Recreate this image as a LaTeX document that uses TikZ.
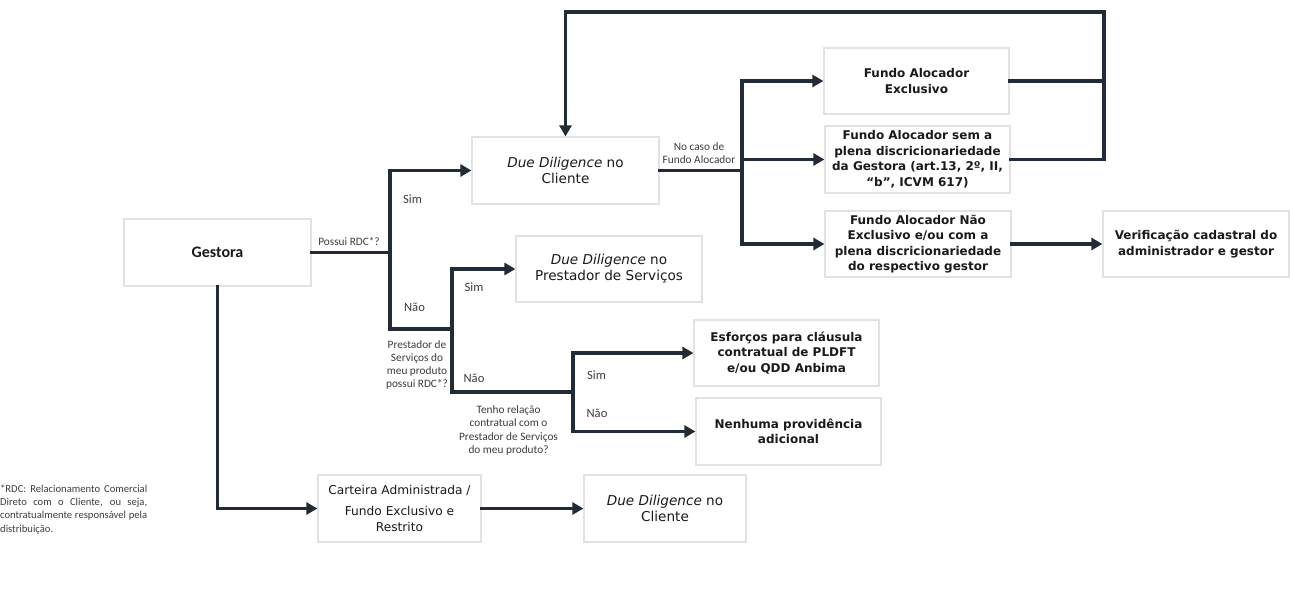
\documentclass[tikz,border=0pt]{standalone}
\usepackage{fontspec}
\setmainfont{DejaVu Sans}
\newfontfamily\lblfont{Carlito}
\usetikzlibrary{arrows.meta}
\definecolor{linec}{HTML}{232B36}
\definecolor{boxc}{HTML}{E2E2E2}
\definecolor{txtc}{HTML}{1A1A1A}
\definecolor{lblc}{HTML}{3C3C3C}
\tikzset{
  box/.style={draw=boxc, line width=1.2pt, fill=white, inner sep=0pt, align=center, text=txtc},
  boldbox/.style={box, font=\fontsize{12}{15.5}\selectfont\bfseries},
  regbox/.style={box, font=\fontsize{13.6}{16}\selectfont},
  conn/.style={draw=linec, line width=3.8pt, line cap=rect, line join=miter},
  arr/.style={conn, -{Triangle[length=11pt,width=12pt]}},
  lbl/.style={text=lblc, font=\lblfont\fontsize{11.3}{13.2}\selectfont, inner sep=0pt, align=center},
  yn/.style={text=lblc, font=\lblfont\fontsize{12.6}{14}\selectfont, inner sep=0pt}
}
\begin{document}
\begin{tikzpicture}[x=1pt,y=-1pt]
\useasboundingbox (0,0) rectangle (1290,594);
% boxes
\node[box, font=\lblfont\fontsize{16}{18}\selectfont\bfseries, minimum width=187, minimum height=67] (G) at (217.5,252.5) {Gestora};
\node[regbox, minimum width=187, minimum height=67] (DDC) at (565.5,170.5) {\textit{Due Diligence} no\\Cliente};
\node[regbox, minimum width=186, minimum height=66] (DDP) at (609,269) {\textit{Due Diligence} no\\Prestador de Serviços};
\node[boldbox, minimum width=185, minimum height=66] (FAE) at (916.5,81) {Fundo Alocador\\Exclusivo};
\node[boldbox, minimum width=185, minimum height=67] (FAS) at (917.5,159.5) {Fundo Alocador sem a\\plena discricionariedade\\da Gestora (art.13, 2º, II,\\“b”, ICVM 617)};
\node[boldbox, minimum width=186, minimum height=66] (FAN) at (918,244) {Fundo Alocador Não\\Exclusivo e/ou com a\\plena discricionariedade\\do respectivo gestor};
\node[boldbox, minimum width=186, minimum height=66] (VER) at (1196,244) {Verificação cadastral do\\administrador e gestor};
\node[boldbox, minimum width=185, minimum height=66] (ESF) at (786.5,353) {Esforços para cláusula\\contratual de PLDFT\\e/ou QDD Anbima};
\node[boldbox, minimum width=185, minimum height=67] (NEN) at (788.5,431.5) {Nenhuma providência\\adicional};
\node[box, font=\fontsize{12.2}{16}\selectfont, minimum width=163, minimum height=67] (CAR) at (399.5,508.5) {Carteira Administrada /\\[5pt]Fundo Exclusivo e\\Restrito};
\node[regbox, minimum width=162, minimum height=67] (DDC2) at (665,508.5) {\textit{Due Diligence} no\\Cliente};
% junctions
\coordinate (j1) at (390,252.5);
\coordinate (j2) at (452,329);
\coordinate (j3) at (573,392);
\coordinate (j4) at (742,170.5);
\coordinate (j5) at (1104,12);
% connectors
\draw[conn] (G.east) -- (j1);
\draw[arr] (j1) |- (DDC.west);
\draw[conn] (j1) |- (j2);
\draw[arr] (j2) |- (DDP.west);
\draw[conn] (j2) |- (j3);
\draw[arr] (j3) |- (ESF.west);
\draw[arr] (j3) |- (NEN.west);
\draw[conn] (DDC.east) -- (j4);
\draw[arr] (j4) |- (FAE.west);
\draw[arr] (j4) |- (FAS.west);
\draw[arr] (j4) |- (FAN.west);
\draw[arr] (FAN.east) -- (VER.west);
\draw[conn] (FAE.east) -| (j5);
\draw[conn] (FAS.east) -| (j5);
\draw[arr] (j5) -| (DDC.north);
\draw[arr] (G.south) |- (CAR.west);
\draw[arr] (CAR.east) -- (DDC2.west);
% labels
\node[lbl] (l1) at (349,242) {Possui RDC*?};
\node[yn] (s1) at (412.5,199) {Sim};
\node[yn] (n1) at (414.5,307) {Não};
\node[lbl] (l2) at (417,365) {Prestador de\\Serviços do\\meu produto\\possui RDC*?};
\node[yn] (s2) at (474,287) {Sim};
\node[yn] (n2) at (474,378) {Não};
\node[lbl] (l3) at (508.5,430.5) {Tenho relação\\contratual com o\\Prestador de Serviços\\do meu produto?};
\node[yn] (s3) at (596.5,375) {Sim};
\node[yn] (n3) at (597,413) {Não};
\node[lbl] (l4) at (699,153.5) {No caso de\\Fundo Alocador};
\node[anchor=north west, inner sep=0pt, text=lblc, font=\lblfont\fontsize{10.6}{13.3}\selectfont, align=left] (fn) at (0,484.5) {\makebox[147pt][s]{*RDC: Relacionamento Comercial}\\\makebox[147pt][s]{Direto com o Cliente, ou seja,}\\\makebox[147pt][s]{contratualmente responsável pela}\\distribuição.};
\end{tikzpicture}
\end{document}
